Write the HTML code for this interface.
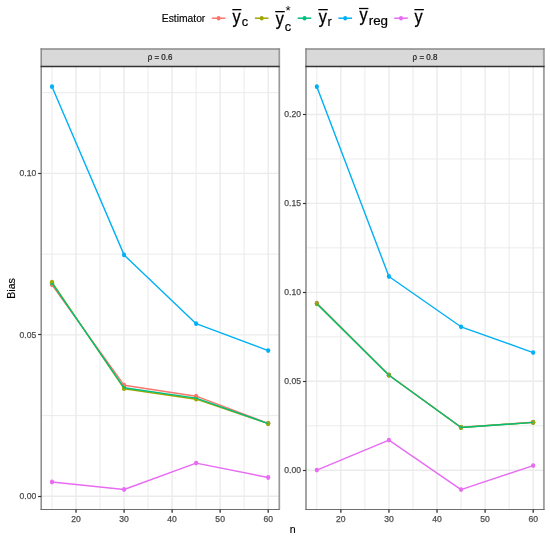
<!DOCTYPE html><html><head><meta charset="utf-8"><title>Bias plot</title><style>html,body{margin:0;padding:0;background:#fff;}svg{display:block;}text{font-family:"Liberation Sans",Arial,Helvetica,sans-serif;}</style></head><body>
<svg width="550" height="538" viewBox="0 0 550 538">
<rect x="0" y="0" width="550" height="538" fill="#fff"/>
<line x1="41.20" y1="415.57" x2="279.00" y2="415.57" stroke="#EAEAEA" stroke-width="0.95"/>
<line x1="41.20" y1="254.13" x2="279.00" y2="254.13" stroke="#EAEAEA" stroke-width="0.95"/>
<line x1="41.20" y1="92.68" x2="279.00" y2="92.68" stroke="#EAEAEA" stroke-width="0.95"/>
<line x1="52.01" y1="66.50" x2="52.01" y2="509.50" stroke="#EAEAEA" stroke-width="0.95"/>
<line x1="100.05" y1="66.50" x2="100.05" y2="509.50" stroke="#EAEAEA" stroke-width="0.95"/>
<line x1="148.09" y1="66.50" x2="148.09" y2="509.50" stroke="#EAEAEA" stroke-width="0.95"/>
<line x1="196.13" y1="66.50" x2="196.13" y2="509.50" stroke="#EAEAEA" stroke-width="0.95"/>
<line x1="244.17" y1="66.50" x2="244.17" y2="509.50" stroke="#EAEAEA" stroke-width="0.95"/>
<line x1="41.20" y1="496.30" x2="279.00" y2="496.30" stroke="#EBEBEB" stroke-width="1.4"/>
<line x1="41.20" y1="334.85" x2="279.00" y2="334.85" stroke="#EBEBEB" stroke-width="1.4"/>
<line x1="41.20" y1="173.40" x2="279.00" y2="173.40" stroke="#EBEBEB" stroke-width="1.4"/>
<line x1="76.03" y1="66.50" x2="76.03" y2="509.50" stroke="#EBEBEB" stroke-width="1.4"/>
<line x1="124.07" y1="66.50" x2="124.07" y2="509.50" stroke="#EBEBEB" stroke-width="1.4"/>
<line x1="172.11" y1="66.50" x2="172.11" y2="509.50" stroke="#EBEBEB" stroke-width="1.4"/>
<line x1="220.15" y1="66.50" x2="220.15" y2="509.50" stroke="#EBEBEB" stroke-width="1.4"/>
<line x1="268.19" y1="66.50" x2="268.19" y2="509.50" stroke="#EBEBEB" stroke-width="1.4"/>
<ellipse cx="52.01" cy="284.80" rx="2.1" ry="2.4" fill="#F8766D"/>
<ellipse cx="124.07" cy="385.20" rx="2.1" ry="2.4" fill="#F8766D"/>
<ellipse cx="196.13" cy="396.20" rx="2.1" ry="2.4" fill="#F8766D"/>
<ellipse cx="268.19" cy="423.30" rx="2.1" ry="2.4" fill="#F8766D"/>
<ellipse cx="52.01" cy="283.20" rx="2.1" ry="2.4" fill="#00BF7D"/>
<ellipse cx="124.07" cy="387.80" rx="2.1" ry="2.4" fill="#00BF7D"/>
<ellipse cx="196.13" cy="398.10" rx="2.1" ry="2.4" fill="#00BF7D"/>
<ellipse cx="268.19" cy="423.60" rx="2.1" ry="2.4" fill="#00BF7D"/>
<ellipse cx="52.01" cy="282.20" rx="2.1" ry="2.4" fill="#A3A500"/>
<ellipse cx="124.07" cy="388.70" rx="2.1" ry="2.4" fill="#A3A500"/>
<ellipse cx="196.13" cy="399.20" rx="2.1" ry="2.4" fill="#A3A500"/>
<ellipse cx="268.19" cy="423.70" rx="2.1" ry="2.4" fill="#A3A500"/>
<ellipse cx="52.01" cy="86.70" rx="2.1" ry="2.4" fill="#00B0F6"/>
<ellipse cx="124.07" cy="254.90" rx="2.1" ry="2.4" fill="#00B0F6"/>
<ellipse cx="196.13" cy="323.70" rx="2.1" ry="2.4" fill="#00B0F6"/>
<ellipse cx="268.19" cy="350.60" rx="2.1" ry="2.4" fill="#00B0F6"/>
<ellipse cx="52.01" cy="482.00" rx="2.1" ry="2.4" fill="#E76BF3"/>
<ellipse cx="124.07" cy="489.50" rx="2.1" ry="2.4" fill="#E76BF3"/>
<ellipse cx="196.13" cy="463.10" rx="2.1" ry="2.4" fill="#E76BF3"/>
<ellipse cx="268.19" cy="477.50" rx="2.1" ry="2.4" fill="#E76BF3"/>
<polyline points="52.01,284.80 124.07,385.20 196.13,396.20 268.19,423.30" fill="none" stroke="#F8766D" stroke-width="1.4" stroke-linejoin="round"/>
<polyline points="52.01,282.20 124.07,388.70 196.13,399.20 268.19,423.70" fill="none" stroke="#A3A500" stroke-width="1.4" stroke-linejoin="round"/>
<polyline points="52.01,283.20 124.07,387.80 196.13,398.10 268.19,423.60" fill="none" stroke="#00BF7D" stroke-width="1.4" stroke-linejoin="round"/>
<polyline points="52.01,86.70 124.07,254.90 196.13,323.70 268.19,350.60" fill="none" stroke="#00B0F6" stroke-width="1.4" stroke-linejoin="round"/>
<polyline points="52.01,482.00 124.07,489.50 196.13,463.10 268.19,477.50" fill="none" stroke="#E76BF3" stroke-width="1.4" stroke-linejoin="round"/>
<rect x="41.20" y="49.00" width="237.80" height="17.50" fill="#D9D9D9"/>
<text transform="translate(160.10,59.90) scale(0.93,1)" font-size="8.6" fill="#1A1A1A" text-anchor="middle" stroke="#1A1A1A" stroke-width="0.2">ρ = 0.6</text>
<line x1="41.20" y1="48.20" x2="41.20" y2="510.10" stroke="#8a8a8a" stroke-width="1.5"/>
<line x1="279.30" y1="48.20" x2="279.30" y2="510.10" stroke="#9a9a9a" stroke-width="1.7"/>
<line x1="40.60" y1="49.00" x2="279.60" y2="49.00" stroke="#888888" stroke-width="1.6"/>
<line x1="40.60" y1="509.50" x2="279.60" y2="509.50" stroke="#6e6e6e" stroke-width="1.2"/>
<line x1="40.60" y1="66.50" x2="279.60" y2="66.50" stroke="#333333" stroke-width="1.4"/>
<line x1="38.10" y1="496.50" x2="41.20" y2="496.50" stroke="#333333" stroke-width="1.15"/>
<text transform="translate(36.20,499.30)" font-size="8.6" fill="#4D4D4D" text-anchor="end" stroke="#4D4D4D" stroke-width="0.25">0.00</text>
<line x1="38.10" y1="334.50" x2="41.20" y2="334.50" stroke="#333333" stroke-width="1.15"/>
<text transform="translate(36.20,337.85)" font-size="8.6" fill="#4D4D4D" text-anchor="end" stroke="#4D4D4D" stroke-width="0.25">0.05</text>
<line x1="38.10" y1="173.50" x2="41.20" y2="173.50" stroke="#333333" stroke-width="1.15"/>
<text transform="translate(36.20,176.40)" font-size="8.6" fill="#4D4D4D" text-anchor="end" stroke="#4D4D4D" stroke-width="0.25">0.10</text>
<line x1="76.03" y1="509.50" x2="76.03" y2="512.80" stroke="#333333" stroke-width="1.3"/>
<text transform="translate(76.03,522.00)" font-size="8.6" fill="#4D4D4D" text-anchor="middle" stroke="#4D4D4D" stroke-width="0.25">20</text>
<line x1="124.07" y1="509.50" x2="124.07" y2="512.80" stroke="#333333" stroke-width="1.3"/>
<text transform="translate(124.07,522.00)" font-size="8.6" fill="#4D4D4D" text-anchor="middle" stroke="#4D4D4D" stroke-width="0.25">30</text>
<line x1="172.11" y1="509.50" x2="172.11" y2="512.80" stroke="#333333" stroke-width="1.3"/>
<text transform="translate(172.11,522.00)" font-size="8.6" fill="#4D4D4D" text-anchor="middle" stroke="#4D4D4D" stroke-width="0.25">40</text>
<line x1="220.15" y1="509.50" x2="220.15" y2="512.80" stroke="#333333" stroke-width="1.3"/>
<text transform="translate(220.15,522.00)" font-size="8.6" fill="#4D4D4D" text-anchor="middle" stroke="#4D4D4D" stroke-width="0.25">50</text>
<line x1="268.19" y1="509.50" x2="268.19" y2="512.80" stroke="#333333" stroke-width="1.3"/>
<text transform="translate(268.19,522.00)" font-size="8.6" fill="#4D4D4D" text-anchor="middle" stroke="#4D4D4D" stroke-width="0.25">60</text>
<line x1="306.00" y1="425.77" x2="544.00" y2="425.77" stroke="#EAEAEA" stroke-width="0.95"/>
<line x1="306.00" y1="336.83" x2="544.00" y2="336.83" stroke="#EAEAEA" stroke-width="0.95"/>
<line x1="306.00" y1="247.88" x2="544.00" y2="247.88" stroke="#EAEAEA" stroke-width="0.95"/>
<line x1="306.00" y1="158.93" x2="544.00" y2="158.93" stroke="#EAEAEA" stroke-width="0.95"/>
<line x1="316.82" y1="66.50" x2="316.82" y2="509.50" stroke="#EAEAEA" stroke-width="0.95"/>
<line x1="364.90" y1="66.50" x2="364.90" y2="509.50" stroke="#EAEAEA" stroke-width="0.95"/>
<line x1="412.98" y1="66.50" x2="412.98" y2="509.50" stroke="#EAEAEA" stroke-width="0.95"/>
<line x1="461.06" y1="66.50" x2="461.06" y2="509.50" stroke="#EAEAEA" stroke-width="0.95"/>
<line x1="509.14" y1="66.50" x2="509.14" y2="509.50" stroke="#EAEAEA" stroke-width="0.95"/>
<line x1="306.00" y1="470.25" x2="544.00" y2="470.25" stroke="#EBEBEB" stroke-width="1.4"/>
<line x1="306.00" y1="381.30" x2="544.00" y2="381.30" stroke="#EBEBEB" stroke-width="1.4"/>
<line x1="306.00" y1="292.35" x2="544.00" y2="292.35" stroke="#EBEBEB" stroke-width="1.4"/>
<line x1="306.00" y1="203.40" x2="544.00" y2="203.40" stroke="#EBEBEB" stroke-width="1.4"/>
<line x1="306.00" y1="114.45" x2="544.00" y2="114.45" stroke="#EBEBEB" stroke-width="1.4"/>
<line x1="340.86" y1="66.50" x2="340.86" y2="509.50" stroke="#EBEBEB" stroke-width="1.4"/>
<line x1="388.94" y1="66.50" x2="388.94" y2="509.50" stroke="#EBEBEB" stroke-width="1.4"/>
<line x1="437.02" y1="66.50" x2="437.02" y2="509.50" stroke="#EBEBEB" stroke-width="1.4"/>
<line x1="485.10" y1="66.50" x2="485.10" y2="509.50" stroke="#EBEBEB" stroke-width="1.4"/>
<line x1="533.18" y1="66.50" x2="533.18" y2="509.50" stroke="#EBEBEB" stroke-width="1.4"/>
<ellipse cx="316.82" cy="303.10" rx="2.1" ry="2.4" fill="#F8766D"/>
<ellipse cx="388.94" cy="375.00" rx="2.1" ry="2.4" fill="#F8766D"/>
<ellipse cx="461.06" cy="427.30" rx="2.1" ry="2.4" fill="#F8766D"/>
<ellipse cx="533.18" cy="422.30" rx="2.1" ry="2.4" fill="#F8766D"/>
<ellipse cx="316.82" cy="303.80" rx="2.1" ry="2.4" fill="#00BF7D"/>
<ellipse cx="388.94" cy="375.20" rx="2.1" ry="2.4" fill="#00BF7D"/>
<ellipse cx="461.06" cy="427.50" rx="2.1" ry="2.4" fill="#00BF7D"/>
<ellipse cx="533.18" cy="422.40" rx="2.1" ry="2.4" fill="#00BF7D"/>
<ellipse cx="316.82" cy="303.80" rx="2.1" ry="2.4" fill="#A3A500"/>
<ellipse cx="388.94" cy="375.20" rx="2.1" ry="2.4" fill="#A3A500"/>
<ellipse cx="461.06" cy="427.50" rx="2.1" ry="2.4" fill="#A3A500"/>
<ellipse cx="533.18" cy="422.40" rx="2.1" ry="2.4" fill="#A3A500"/>
<ellipse cx="316.82" cy="86.70" rx="2.1" ry="2.4" fill="#00B0F6"/>
<ellipse cx="388.94" cy="276.50" rx="2.1" ry="2.4" fill="#00B0F6"/>
<ellipse cx="461.06" cy="326.80" rx="2.1" ry="2.4" fill="#00B0F6"/>
<ellipse cx="533.18" cy="352.60" rx="2.1" ry="2.4" fill="#00B0F6"/>
<ellipse cx="316.82" cy="470.10" rx="2.1" ry="2.4" fill="#E76BF3"/>
<ellipse cx="388.94" cy="440.10" rx="2.1" ry="2.4" fill="#E76BF3"/>
<ellipse cx="461.06" cy="489.60" rx="2.1" ry="2.4" fill="#E76BF3"/>
<ellipse cx="533.18" cy="465.60" rx="2.1" ry="2.4" fill="#E76BF3"/>
<polyline points="316.82,303.10 388.94,375.00 461.06,427.30 533.18,422.30" fill="none" stroke="#F8766D" stroke-width="1.4" stroke-linejoin="round"/>
<polyline points="316.82,303.80 388.94,375.20 461.06,427.50 533.18,422.40" fill="none" stroke="#A3A500" stroke-width="1.4" stroke-linejoin="round"/>
<polyline points="316.82,303.80 388.94,375.20 461.06,427.50 533.18,422.40" fill="none" stroke="#00BF7D" stroke-width="1.4" stroke-linejoin="round"/>
<polyline points="316.82,86.70 388.94,276.50 461.06,326.80 533.18,352.60" fill="none" stroke="#00B0F6" stroke-width="1.4" stroke-linejoin="round"/>
<polyline points="316.82,470.10 388.94,440.10 461.06,489.60 533.18,465.60" fill="none" stroke="#E76BF3" stroke-width="1.4" stroke-linejoin="round"/>
<rect x="306.00" y="49.00" width="238.00" height="17.50" fill="#D9D9D9"/>
<text transform="translate(425.00,59.90) scale(0.93,1)" font-size="8.6" fill="#1A1A1A" text-anchor="middle" stroke="#1A1A1A" stroke-width="0.2">ρ = 0.8</text>
<line x1="306.00" y1="48.20" x2="306.00" y2="510.10" stroke="#9a9a9a" stroke-width="1.8"/>
<line x1="543.90" y1="48.20" x2="543.90" y2="510.10" stroke="#a2a2a2" stroke-width="1.9"/>
<line x1="305.40" y1="49.00" x2="544.60" y2="49.00" stroke="#888888" stroke-width="1.6"/>
<line x1="305.40" y1="509.50" x2="544.60" y2="509.50" stroke="#6e6e6e" stroke-width="1.2"/>
<line x1="305.40" y1="66.50" x2="544.60" y2="66.50" stroke="#333333" stroke-width="1.4"/>
<line x1="302.90" y1="470.50" x2="306.00" y2="470.50" stroke="#333333" stroke-width="1.15"/>
<text transform="translate(301.00,473.25)" font-size="8.6" fill="#4D4D4D" text-anchor="end" stroke="#4D4D4D" stroke-width="0.25">0.00</text>
<line x1="302.90" y1="381.50" x2="306.00" y2="381.50" stroke="#333333" stroke-width="1.15"/>
<text transform="translate(301.00,384.30)" font-size="8.6" fill="#4D4D4D" text-anchor="end" stroke="#4D4D4D" stroke-width="0.25">0.05</text>
<line x1="302.90" y1="292.50" x2="306.00" y2="292.50" stroke="#333333" stroke-width="1.15"/>
<text transform="translate(301.00,295.35)" font-size="8.6" fill="#4D4D4D" text-anchor="end" stroke="#4D4D4D" stroke-width="0.25">0.10</text>
<line x1="302.90" y1="203.50" x2="306.00" y2="203.50" stroke="#333333" stroke-width="1.15"/>
<text transform="translate(301.00,206.40)" font-size="8.6" fill="#4D4D4D" text-anchor="end" stroke="#4D4D4D" stroke-width="0.25">0.15</text>
<line x1="302.90" y1="114.50" x2="306.00" y2="114.50" stroke="#333333" stroke-width="1.15"/>
<text transform="translate(301.00,117.45)" font-size="8.6" fill="#4D4D4D" text-anchor="end" stroke="#4D4D4D" stroke-width="0.25">0.20</text>
<line x1="340.86" y1="509.50" x2="340.86" y2="512.80" stroke="#333333" stroke-width="1.3"/>
<text transform="translate(340.86,522.00)" font-size="8.6" fill="#4D4D4D" text-anchor="middle" stroke="#4D4D4D" stroke-width="0.25">20</text>
<line x1="388.94" y1="509.50" x2="388.94" y2="512.80" stroke="#333333" stroke-width="1.3"/>
<text transform="translate(388.94,522.00)" font-size="8.6" fill="#4D4D4D" text-anchor="middle" stroke="#4D4D4D" stroke-width="0.25">30</text>
<line x1="437.02" y1="509.50" x2="437.02" y2="512.80" stroke="#333333" stroke-width="1.3"/>
<text transform="translate(437.02,522.00)" font-size="8.6" fill="#4D4D4D" text-anchor="middle" stroke="#4D4D4D" stroke-width="0.25">40</text>
<line x1="485.10" y1="509.50" x2="485.10" y2="512.80" stroke="#333333" stroke-width="1.3"/>
<text transform="translate(485.10,522.00)" font-size="8.6" fill="#4D4D4D" text-anchor="middle" stroke="#4D4D4D" stroke-width="0.25">50</text>
<line x1="533.18" y1="509.50" x2="533.18" y2="512.80" stroke="#333333" stroke-width="1.3"/>
<text transform="translate(533.18,522.00)" font-size="8.6" fill="#4D4D4D" text-anchor="middle" stroke="#4D4D4D" stroke-width="0.25">60</text>
<text transform="translate(292.60,533.00)" font-size="10.6" fill="#000" text-anchor="middle" stroke="#000" stroke-width="0.15">n</text>
<text transform="translate(14.9,288.4) rotate(-90)" font-size="10.6" fill="#000" stroke="#000" stroke-width="0.15" text-anchor="middle">Bias</text>
<text transform="translate(161.80,22.00)" font-size="10.3" fill="#000" text-anchor="start" stroke="#000" stroke-width="0.15">Estimator</text>
<line x1="211.80" y1="18.20" x2="225.40" y2="18.20" stroke="#F8766D" stroke-width="1.5"/>
<ellipse cx="218.60" cy="18.2" rx="2.0" ry="2.3" fill="#F8766D"/>
<line x1="254.90" y1="18.20" x2="268.50" y2="18.20" stroke="#A3A500" stroke-width="1.5"/>
<ellipse cx="261.70" cy="18.2" rx="2.0" ry="2.3" fill="#A3A500"/>
<line x1="297.70" y1="18.20" x2="311.30" y2="18.20" stroke="#00BF7D" stroke-width="1.5"/>
<ellipse cx="304.50" cy="18.2" rx="2.0" ry="2.3" fill="#00BF7D"/>
<line x1="338.40" y1="18.20" x2="352.00" y2="18.20" stroke="#00B0F6" stroke-width="1.5"/>
<ellipse cx="345.20" cy="18.2" rx="2.0" ry="2.3" fill="#00B0F6"/>
<line x1="394.20" y1="18.20" x2="407.80" y2="18.20" stroke="#E76BF3" stroke-width="1.5"/>
<ellipse cx="401.00" cy="18.2" rx="2.0" ry="2.3" fill="#E76BF3"/>
<text transform="translate(232.60,22.50) scale(0.87,1)" font-size="18.6" fill="#000" text-anchor="start" stroke="#000" stroke-width="0.3">y</text><line x1="232.30" y1="9.65" x2="241.40" y2="9.65" stroke="#000" stroke-width="1.3"/>
<text transform="translate(241.70,26.20)" font-size="12.8" fill="#000" text-anchor="start" stroke="#000" stroke-width="0.2">c</text>
<text transform="translate(275.80,24.50) scale(0.87,1)" font-size="18.6" fill="#000" text-anchor="start" stroke="#000" stroke-width="0.3">y</text><line x1="275.20" y1="11.65" x2="284.80" y2="11.65" stroke="#000" stroke-width="1.3"/>
<text transform="translate(284.70,30.80)" font-size="12.8" fill="#000" text-anchor="start" stroke="#000" stroke-width="0.2">c</text>
<text transform="translate(285.40,15.20)" font-size="13.2" fill="#000" text-anchor="start">*</text>
<text transform="translate(318.70,22.50) scale(0.87,1)" font-size="18.6" fill="#000" text-anchor="start" stroke="#000" stroke-width="0.3">y</text><line x1="318.30" y1="9.65" x2="327.80" y2="9.65" stroke="#000" stroke-width="1.3"/>
<text transform="translate(327.50,26.10)" font-size="12.8" fill="#000" text-anchor="start" stroke="#000" stroke-width="0.2">r</text>
<text transform="translate(359.40,21.10) scale(0.87,1)" font-size="18.6" fill="#000" text-anchor="start" stroke="#000" stroke-width="0.3">y</text><line x1="359.00" y1="8.50" x2="368.40" y2="8.50" stroke="#000" stroke-width="1.3"/>
<text transform="translate(368.70,24.70)" font-size="13.4" fill="#000" text-anchor="start" stroke="#000" stroke-width="0.2">reg</text>
<text transform="translate(414.50,22.50) scale(0.87,1)" font-size="18.6" fill="#000" text-anchor="start" stroke="#000" stroke-width="0.3">y</text><line x1="414.40" y1="9.65" x2="423.90" y2="9.65" stroke="#000" stroke-width="1.3"/>
</svg></body></html>
